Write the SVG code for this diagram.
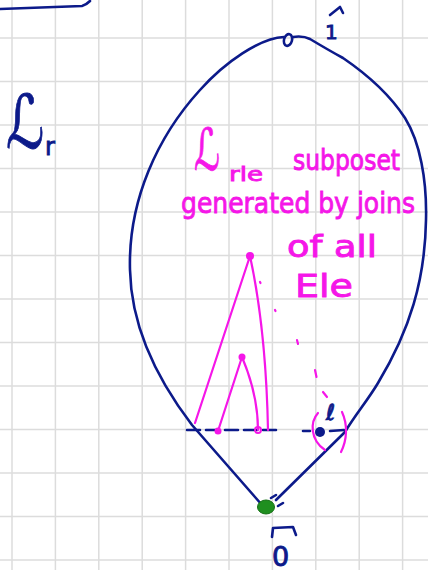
<svg xmlns="http://www.w3.org/2000/svg" width="428" height="570" viewBox="0 0 428 570">
<style>
.grid line{stroke:#dcdcdc;stroke-width:1.5}
.navy{fill:none;stroke:#0c1a8a;stroke-width:2.6;stroke-linecap:round;stroke-linejoin:round}
.mag{fill:none;stroke:#f516e8;stroke-width:2.2;stroke-linecap:round;stroke-linejoin:round}
.tm{fill:#f516e8;stroke:#f516e8;stroke-width:0.9;font-family:"DejaVu Sans","Liberation Sans",sans-serif}
.tn{fill:#0c1a8a;stroke:#0c1a8a;stroke-width:0.9;font-family:"DejaVu Sans","Liberation Sans",sans-serif}
</style>
<rect width="428" height="570" fill="#ffffff"/>
<g class="grid">
<line x1="12" y1="0" x2="12" y2="570"/><line x1="55.4" y1="0" x2="55.4" y2="570"/><line x1="98.8" y1="0" x2="98.8" y2="570"/><line x1="142.2" y1="0" x2="142.2" y2="570"/><line x1="185.6" y1="0" x2="185.6" y2="570"/><line x1="229" y1="0" x2="229" y2="570"/><line x1="272.4" y1="0" x2="272.4" y2="570"/><line x1="315.8" y1="0" x2="315.8" y2="570"/><line x1="359.2" y1="0" x2="359.2" y2="570"/><line x1="402.6" y1="0" x2="402.6" y2="570"/>
<line x1="0" y1="38" x2="428" y2="38"/><line x1="0" y1="81.5" x2="428" y2="81.5"/><line x1="0" y1="125" x2="428" y2="125"/><line x1="0" y1="168.5" x2="428" y2="168.5"/><line x1="0" y1="212" x2="428" y2="212"/><line x1="0" y1="255.5" x2="428" y2="255.5"/><line x1="0" y1="299" x2="428" y2="299"/><line x1="0" y1="342.5" x2="428" y2="342.5"/><line x1="0" y1="386" x2="428" y2="386"/><line x1="0" y1="429.5" x2="428" y2="429.5"/><line x1="0" y1="473" x2="428" y2="473"/><line x1="0" y1="516.5" x2="428" y2="516.5"/><line x1="0" y1="560" x2="428" y2="560"/>
</g>
<path class="navy" d="M0,9 C30,8 60,7 82,6 C86,5 88,3 90,1"/>
<g id="lattice-Lr">
<path class="navy" d="M284,37 C260,38 225,62 200,90 C158,136 128,200 130,270 C131,320 150,370 192,425 L262,505"/>
<path class="navy" d="M293,37 C300,36 306,37 310,39 C320,45 332,52 343,58 C365,73 390,95 405,118 C420,142 427,180 426,220 C425,280 410,330 378,383 C368,400 355,415 345,432 L276,500"/>
<path class="navy" d="M271,498 L276,495 M278,506 L283,503"/>
</g>
<g id="connectors">
<path class="navy" d="M187,430 L282,430" stroke-dasharray="13 6"/>
<path class="navy" d="M303,431 L310,431 M330,431 L344,430"/>
<path class="mag" d="M195,423 L250,256 Q266,330 268,430"/>
<path class="mag" d="M218,431 L242,357 Q258,395 258,430"/>
<path class="mag" d="M260,282 l0.5,1 M275,310 l0.5,1 M297,340 l1,4 M315,370 l1.5,7 M323,392 l4,5"/>
</g>
<g id="node-top">
<ellipse class="navy" cx="288" cy="40" rx="4" ry="6" transform="rotate(15 288 40)"/>
<text class="tn" x="325" y="39" font-size="20">1</text>
<path class="navy" d="M330,15 L340,7 L343,13"/>
</g>
<g id="node-bottom">
<ellipse cx="266" cy="507" rx="8.5" ry="7" fill="#1f8f1f" stroke="#157015" stroke-width="1"/>
<text class="tn" x="272" y="566" font-size="27">0</text>
<path class="navy" d="M272,537 L273,528 L293,527 L296,535"/>
</g>
<g id="node-big-apex"><circle cx="250" cy="256" r="4" fill="#f516e8"/></g>
<g id="node-small-apex"><circle cx="242" cy="357" r="3.5" fill="#f516e8"/></g>
<g id="node-a"><circle cx="218" cy="431" r="3.5" fill="#f516e8"/></g>
<g id="node-b"><circle cx="258" cy="430" r="3" fill="none" stroke="#f516e8" stroke-width="2"/></g>
<g id="node-l">
<circle cx="320" cy="432" r="5" fill="#0c1a8a"/>
<text class="tn" x="326" y="420" font-size="22">ℓ</text>
<path class="mag" d="M318,413 C310,422 310,440 325,450 M342,412 C348,425 347,440 341,452"/>
</g>
<g id="labels">
<text class="tn" font-size="74" transform="translate(6,148) scale(0.72,1)">ℒ</text>
<text class="tn" x="45" y="155" font-size="24">r</text>
<text class="tm" font-size="58" transform="translate(194,170) scale(0.62,1)">ℒ</text>
<text class="tm" x="229" y="181" font-size="20" textLength="34" lengthAdjust="spacingAndGlyphs">rle</text>
<text class="tm" x="293" y="170" font-size="28" textLength="107" lengthAdjust="spacingAndGlyphs">subposet</text>
<text class="tm" x="181" y="213" font-size="29" textLength="234" lengthAdjust="spacingAndGlyphs">generated by joins</text>
<text class="tm" x="287" y="257" font-size="30" textLength="90" lengthAdjust="spacingAndGlyphs">of all</text>
<text class="tm" x="295" y="297" font-size="32" textLength="58" lengthAdjust="spacingAndGlyphs">Ele</text>
</g>
</svg>
